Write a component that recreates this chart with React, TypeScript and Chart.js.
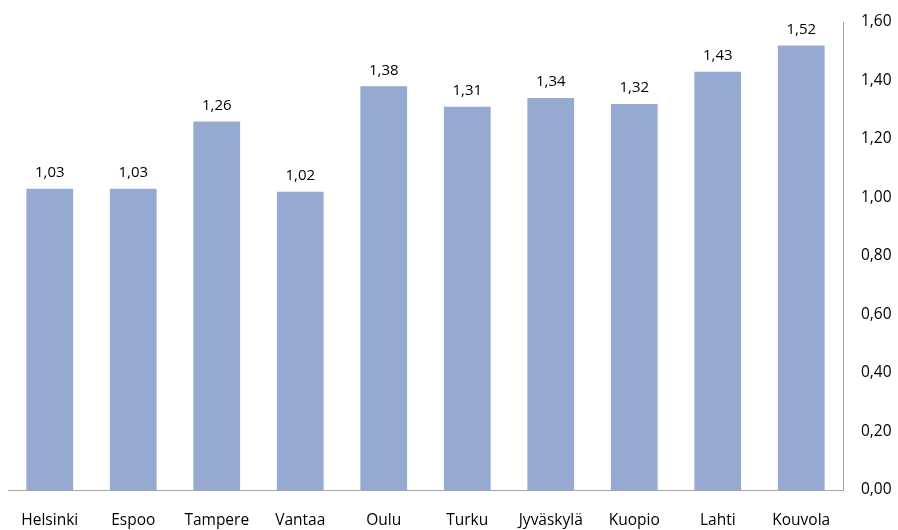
import React, { useEffect, useRef } from "react";
import { Chart, registerables } from "chart.js";

Chart.register(...registerables);

const categories = ["Helsinki", "Espoo", "Tampere", "Vantaa", "Oulu", "Turku", "Jyväskylä", "Kuopio", "Lahti", "Kouvola"];
const values = [1.03, 1.03, 1.26, 1.02, 1.38, 1.31, 1.34, 1.32, 1.43, 1.52];
const yTicks = [0, 0.2, 0.4, 0.6, 0.8, 1.0, 1.2, 1.4, 1.6];

const FONT = "'Open Sans', sans-serif";
const fmt = (v: number) => v.toFixed(2).replace(".", ",");

const labelPlugin = {
  id: "valueLabels",
  afterDatasetsDraw(chart: any) {
    const ctx = chart.ctx;
    const meta = chart.getDatasetMeta(0);
    ctx.save();
    ctx.font = `15px ${FONT}`;
    ctx.fillStyle = "#000";
    ctx.textAlign = "center";
    ctx.textBaseline = "middle";
    meta.data.forEach((bar: any, i: number) => {
      ctx.fillText(fmt(values[i]), bar.x, bar.y - 16);
    });
    ctx.restore();
  },
};

export default function App() {
  const ref = useRef<HTMLCanvasElement>(null);
  useEffect(() => {
    if (!ref.current) return;
    const chart = new Chart(ref.current, {
      type: "bar",
      data: {
        labels: categories,
        datasets: [{ data: values, backgroundColor: "#95A9D1", barPercentage: 0.7, categoryPercentage: 0.8 }],
      },
      plugins: [labelPlugin],
      options: {
        animation: false,
        responsive: false,
        devicePixelRatio: 1,
        layout: { padding: { top: 22, left: 8, right: 0, bottom: 0 } },
        plugins: { legend: { display: false }, tooltip: { enabled: false } },
        scales: {
          x: {
            grid: { display: false },
            border: { display: true, color: "#A6A6A6", width: 1 },
            ticks: { color: "#000", font: { family: FONT, size: 15.5 }, padding: 13, maxRotation: 0 },
            afterFit: (s: any) => { s.height = 40; },
          },
          y: {
            position: "right",
            min: 0,
            max: 1.6,
            afterBuildTicks: (s: any) => { s.ticks = yTicks.map((v) => ({ value: v })); },
            grid: { display: false },
            border: { display: true, color: "#A6A6A6", width: 1 },
            ticks: { color: "#000", font: { family: FONT, size: 15.5 }, padding: 10, callback: (v: any) => fmt(Number(v)) },
            afterFit: (s: any) => { s.width = 55; },
          },
        },
      },
    });
    return () => chart.destroy();
  }, []);
  return (
    <div style={{ position: "absolute", left: 0, top: 0, width: 898, height: 530, background: "#fff" }}>
      <canvas ref={ref} width={898} height={530} style={{ width: 898, height: 530 }} />
    </div>
  );
}
